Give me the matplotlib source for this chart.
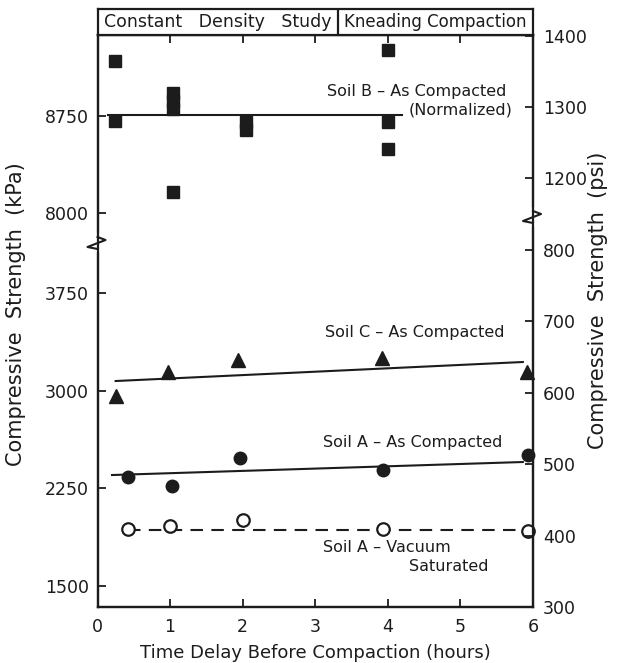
import numpy as np
import matplotlib.pyplot as plt

# Данные (часы задержки, прочность в кПа)
hour_ticks = [0, 1, 2, 3, 4, 5, 6]
kpa_ticks = [1500, 2250, 3000, 3750, 8000, 8750]
psi_ticks = [300, 400, 500, 600, 700, 800, 1200, 1300, 1400]

soil_b_hours = [0.24, 0.24, 1.04, 1.04, 1.04, 1.04, 2.04, 2.04, 4.0, 4.0, 4.0]
soil_b_kpa = [9175, 8711, 8928, 8866, 8804, 8163, 8704, 8642, 9260, 8704, 8495]
soil_b_fit_hours = [0.15, 4.2]
soil_b_fit_kpa = [8758, 8758]

soil_c_hours = [0.25, 0.97, 1.94, 3.92, 5.92]
soil_c_kpa = [2959, 3143, 3235, 3251, 3143]
soil_c_fit_hours = [0.25, 5.86]
soil_c_fit_kpa = [3074, 3220]

soil_a_hours = [0.42, 1.03, 1.96, 3.94, 5.93]
soil_a_kpa = [2337, 2268, 2483, 2391, 2506]
soil_a_fit_hours = [0.2, 5.86]
soil_a_fit_kpa = [2352, 2452]

vac_hours = [0.42, 1.0, 2.0, 3.94, 5.93]
vac_kpa = [1938, 1961, 2007, 1938, 1922]
vac_fit_hours = [0.42, 5.93]
vac_fit_kpa = [1930, 1930]

# Шкалы с разрывом (кусочно-линейные)
kpa_k = np.array([0.0, 4125.0, 7780.0, 20000.0])
kpa_u = np.array([314 + (k - 3750) / 7.68 if k < 6000 else 491 + (k - 8750) / 7.73 for k in kpa_k])
psi_k = np.array([0.0, 845.0, 1146.0, 3000.0])
psi_u = np.array([214 + (p - 600) * 0.715 if p < 1000 else 500 + (p - 1300) * 0.71 for p in psi_k])


def kpa_fwd(v):
    return np.interp(v, kpa_k, kpa_u)


def kpa_inv(v):
    return np.interp(v, kpa_u, kpa_k)


def psi_fwd(v):
    return np.interp(v, psi_k, psi_u)


def psi_inv(v):
    return np.interp(v, psi_u, psi_k)


plt.rcParams['font.family'] = ['DejaVu Sans']
ink = '#1c1c1c'

W, H = 630, 663
fig = plt.figure(figsize=(W / 100, H / 100), dpi=100)
x0, x1, y_top, y_bot = 97.5, 533, 35, 607
ax = fig.add_axes([x0 / W, (H - y_bot) / H, (x1 - x0) / W, (y_bot - y_top) / H])
ax_h = y_bot - y_top

ax.set_yscale('function', functions=(kpa_fwd, kpa_inv))
ax.set_xlim(0, 6)
ax.set_ylim(kpa_inv(0), kpa_inv(ax_h))

# Грунт B
ax.plot(soil_b_hours, soil_b_kpa, 's', ms=8.5, color=ink)
ax.plot(soil_b_fit_hours, soil_b_fit_kpa, '-', color=ink, lw=1.5)
# Грунт C
ax.plot(soil_c_hours, soil_c_kpa, '^', ms=10, color=ink, clip_on=False)
ax.plot(soil_c_fit_hours, soil_c_fit_kpa, '-', color=ink, lw=1.5)
# Грунт A
ax.plot(soil_a_hours, soil_a_kpa, 'o', ms=9, color=ink, clip_on=False)
ax.plot(soil_a_fit_hours, soil_a_fit_kpa, '-', color=ink, lw=1.5)
# Грунт A, вакуумное насыщение
ax.plot(vac_fit_hours, vac_fit_kpa, '--', color=ink, lw=1.5, dashes=(6, 4), zorder=2)
ax.plot(vac_hours, vac_kpa, 'o', ms=9, mfc='white', mec=ink, mew=1.6, clip_on=False, zorder=3)

fs_ann = 11.5
ax.text(3.16, 8936, 'Soil B – As Compacted', fontsize=fs_ann, va='center', color=ink)
ax.text(4.28, 8796, '(Normalized)', fontsize=fs_ann, va='center', color=ink)
ax.text(3.13, 3443, 'Soil C – As Compacted', fontsize=fs_ann, va='center', color=ink)
ax.text(3.11, 2598, 'Soil A – As Compacted', fontsize=fs_ann, va='center', color=ink)
ax.text(3.11, 1792, 'Soil A – Vacuum', fontsize=fs_ann, va='center', color=ink)
ax.text(4.29, 1646, 'Saturated', fontsize=fs_ann, va='center', color=ink)

ax.set_xticks(hour_ticks)
ax.set_yticks(kpa_ticks)
ax.set_yticklabels([str(t) for t in kpa_ticks])
ax.tick_params(axis='both', direction='in', length=6, width=1.3, labelsize=12.5, colors=ink)
ax.tick_params(axis='x', pad=8, top=True)
ax.tick_params(axis='y', pad=6)
ax.set_xlabel('Time Delay Before Compaction (hours)', fontsize=13, color=ink, labelpad=6)
ax.set_ylabel('Compressive  Strength  (kPa)', fontsize=15, color=ink)
ax.yaxis.set_label_coords(-0.164, 0.512)

ax2 = ax.twinx()
ax2.set_yscale('function', functions=(psi_fwd, psi_inv))
ax2.set_ylim(psi_inv(0), psi_inv(ax_h))
ax2.set_yticks(psi_ticks)
ax2.set_yticklabels([str(t) for t in psi_ticks])
ax2.tick_params(axis='y', direction='in', length=6, width=1.3, labelsize=12.5, pad=7, colors=ink)
ax2.set_ylabel('Compressive  Strength  (psi)', fontsize=15, color=ink)
ax2.yaxis.set_label_coords(1.127, 0.537)

for a in (ax, ax2):
    for s in a.spines.values():
        s.set_linewidth(1.6)
        s.set_color(ink)

# Разрывы оси
for xa, ub in ((0.0, 364), (1.0, 390)):
    ax.plot([xa, xa], [(ub - 7) / ax_h, (ub + 7) / ax_h], color='white', lw=4,
            transform=ax.transAxes, clip_on=False, zorder=5)
    zx = [0, 8, -10, 0]
    zy = [6, 3, -4, -6]
    ax.plot([xa + dx / (x1 - x0) for dx in zx], [(ub + dy) / ax_h for dy in zy],
            color=ink, lw=1.5, transform=ax.transAxes, clip_on=False, zorder=6)

# Заголовок
hdr = fig.add_axes([x0 / W, (H - y_top) / H, (x1 - x0) / W, 26 / H])
hdr.set_xlim(0, 6)
hdr.set_ylim(0, 1)
hdr.set_xticks([])
hdr.set_yticks([])
for s in hdr.spines.values():
    s.set_linewidth(1.6)
    s.set_color(ink)
hdr.axvline(3.31, color=ink, lw=1.6)
hdr.text(1.655, 0.5, 'Constant   Density   Study', ha='center', va='center', fontsize=12.5, color=ink)
hdr.text(4.655, 0.5, 'Kneading Compaction', ha='center', va='center', fontsize=12, color=ink)

fig.savefig('out.png', dpi=100)
